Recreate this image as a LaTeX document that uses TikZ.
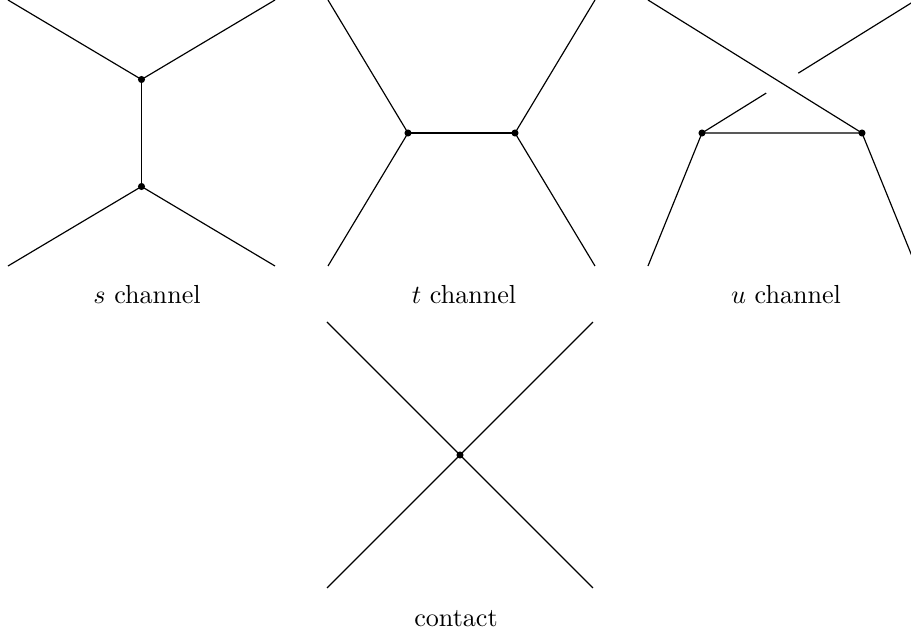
\documentclass[tikz,border=0pt]{standalone}
\usetikzlibrary{calc}

\tikzset{
  leg/.style={line width=0.45pt},
  vertex/.style={circle,fill,inner sep=0pt,minimum size=2.7pt},
  chan/.style={anchor=base},
}

\begin{document}
\begin{tikzpicture}[x=0.383pt,y=-0.383pt]
  \useasboundingbox (0,0) rectangle (911,633);
  \clip (0,0) rectangle (911,633);

  % s channel
  \coordinate (s-in1) at (8,0);
  \coordinate (s-in2) at (275,0);
  \coordinate (s-out1) at (8,266);
  \coordinate (s-out2) at (275,266);
  \node[vertex] (s-a) at (141.5,79.5) {};
  \node[vertex] (s-b) at (141.5,186.5) {};
  \draw[leg] (s-in1) -- (s-a.center) -- (s-in2);
  \draw[leg] (s-a.center) -- (s-b.center);
  \draw[leg] (s-out1) -- (s-b.center) -- (s-out2);
  \node[chan] (s-lab) at (147,304) {$s$ channel};

  % t channel
  \coordinate (t-in1) at (328,0);
  \coordinate (t-in2) at (595,0);
  \coordinate (t-out1) at (328,266);
  \coordinate (t-out2) at (595,266);
  \node[vertex] (t-a) at (408,133) {};
  \node[vertex] (t-b) at (515,133) {};
  \draw[leg] (t-in1) -- (t-a.center) -- (t-out1);
  \draw[leg] (t-in2) -- (t-b.center) -- (t-out2);
  \draw[leg] (t-a.center) -- (t-b.center);
  \node[chan] (t-lab) at (464,304) {$t$ channel};

  % u channel
  \coordinate (u-in1) at (648,0);
  \coordinate (u-in2) at (916,0);
  \coordinate (u-out1) at (648,266);
  \coordinate (u-out2) at (916,266);
  \node[vertex] (u-a) at (702,133) {};
  \node[vertex] (u-b) at (862,133) {};
  \draw[leg] (u-in1) -- (u-b.center) -- (u-out2);
  \draw[leg] (u-out1) -- (u-a.center) -- (u-b.center);
  \draw[leg] (u-a.center) -- ($(u-a.center)!0.3!(u-in2)$);
  \draw[leg] ($(u-a.center)!0.45!(u-in2)$) -- (u-in2);
  \node[chan] (u-lab) at (786,304) {$u$ channel};

  % contact
  \coordinate (c-in1) at (327,322);
  \coordinate (c-in2) at (593,322);
  \coordinate (c-out1) at (327,588);
  \coordinate (c-out2) at (593,588);
  \node[vertex] (c-v) at (460,455) {};
  \draw[leg] (c-in1) -- (c-v.center) -- (c-out2);
  \draw[leg] (c-in2) -- (c-v.center) -- (c-out1);
  \node[chan] (c-lab) at (456,626) {contact};
\end{tikzpicture}
\end{document}
